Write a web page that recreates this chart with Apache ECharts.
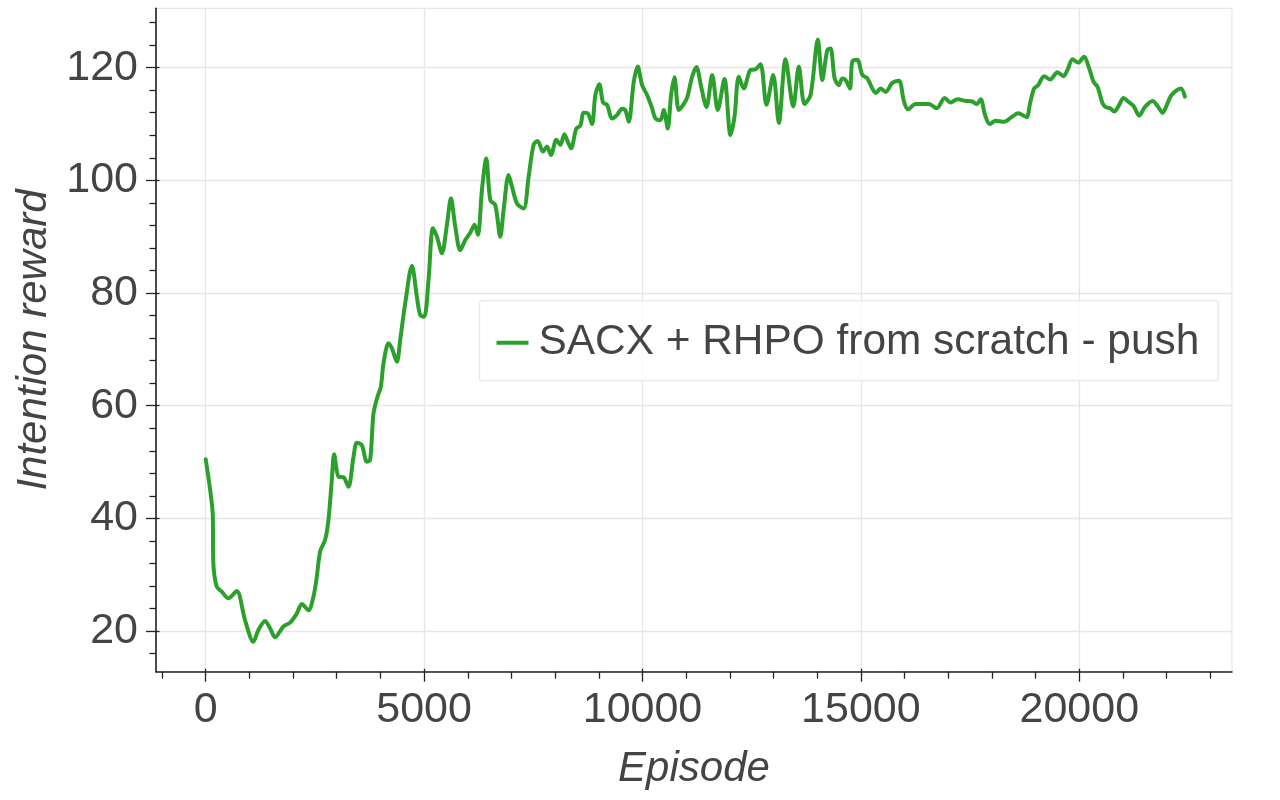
<!DOCTYPE html>
<html>
<head>
<meta charset="utf-8">
<script src="https://cdn.jsdelivr.net/npm/echarts@6/dist/echarts.min.js"></script>
<style>
html,body{margin:0;padding:0;background:#fff;}
#chart{width:1280px;height:800px;}
</style>
</head>
<body>
<div id="chart"></div>
<script>
const seriesName = 'SACX + RHPO from scratch - push';
const xTitle = 'Episode';
const yTitle = 'Intention reward';
const xTickValues = [0, 5000, 10000, 15000, 20000];
const xMinorTickValues = [-1000,1000,2000,3000,4000,6000,7000,8000,9000,11000,12000,13000,14000,16000,17000,18000,19000,21000,22000,23000];
const yTickValues = [20, 40, 60, 80, 100, 120];
const yMinorTickValues = [16,24,28,32,36,44,48,52,56,64,68,72,76,84,88,92,96,104,108,112,116,124,128];
const episodes = [0,103,160,175,251,366,519,710,900,1091,1206,1359,1473,1588,1778,1932,2085,2200,2352,2466,2543,2619,2734,2810,2887,2940,3039,3154,3268,3383,3460,3574,3689,3765,3841,3933,4010,4070,4185,4262,4377,4453,4568,4721,4835,4911,5002,5101,5202,5293,5408,5522,5614,5713,5827,5942,6056,6155,6232,6324,6423,6515,6629,6744,6820,6934,7012,7127,7278,7393,7507,7599,7722,7814,7905,8027,8119,8211,8272,8364,8485,8577,8653,8745,8845,8921,9012,9097,9189,9303,9418,9532,9609,9685,9800,9890,9991,10105,10220,10296,10411,10486,10578,10655,10731,10830,10930,11022,11137,11235,11343,11465,11595,11723,11876,12014,12106,12204,12319,12472,12587,12702,12839,12993,13121,13274,13451,13579,13710,13848,14015,14115,14230,14306,14398,14496,14574,14650,14749,14803,14917,15032,15147,15261,15337,15451,15566,15719,15871,15986,16077,16253,16558,16735,16918,17055,17209,17399,17552,17651,17743,17842,17949,18086,18277,18446,18598,18698,18797,18873,18965,19057,19194,19331,19500,19638,19730,19844,19973,20110,20225,20325,20417,20532,20607,20706,20798,20899,21013,21119,21242,21371,21501,21677,21792,21907,22005,22097,22211,22326,22418];
const rewards = [50.5,45.0,40.9,32.0,27.9,27.0,25.8,27.1,21.95,18.1,20.2,21.8,20.5,18.9,20.8,21.5,23.1,24.8,23.7,26.1,29.6,34.1,36.2,39.7,46.8,51.4,47.4,47.3,45.6,50.9,53.4,53.0,50.05,50.4,58.6,61.6,63.4,67.5,71.1,70.2,67.8,71.7,78.2,84.85,79.3,76.1,75.8,82.3,91.5,90.0,87.05,92.1,96.8,91.8,87.6,89.4,90.7,92.1,90.3,98.3,103.9,96.5,95.6,90.0,94.75,100.95,98.9,95.9,95.0,100.65,106.3,107.0,105.1,106.0,104.5,107.2,106.3,108.2,107.2,105.7,109.2,109.7,112.0,111.9,110.0,115.15,117.05,113.8,113.4,111.0,111.6,112.7,112.4,110.4,117.5,120.2,116.9,115.15,112.8,111.0,110.7,112.5,109.2,115.15,118.3,112.5,113.4,114.7,118.4,120.1,116.6,113.0,118.7,112.5,118.0,108.05,111.3,118.4,116.3,119.6,119.7,120.6,113.4,118.7,110.2,121.5,113.1,120.2,113.55,115.15,125.0,117.8,123.1,123.4,118.1,116.9,118.1,117.8,116.3,121.1,121.4,118.7,118.1,116.3,115.5,116.3,115.7,117.3,117.7,114.0,112.6,113.55,113.55,112.8,114.6,113.8,114.4,114.1,114.0,113.55,114.4,111.6,110.0,110.6,110.4,111.2,111.9,111.6,111.2,113.7,116.3,116.9,118.5,117.9,119.2,118.5,119.6,121.5,120.9,121.95,119.9,117.5,116.6,113.7,113.0,112.8,112.2,113.2,114.6,114.0,113.2,111.5,113.0,114.1,113.2,112.0,113.4,115.0,115.9,116.3,114.85];

const FONT = '"Liberation Sans", Arial, Helvetica, sans-serif';
const TXT = '#444444';
const AX = '#222222';
const GRIDC = '#e6e6e6';
const X_MIN = -1138, X_MAX = 23496, Y_MIN = 12.78, Y_MAX = 130.54;

const chart = echarts.init(document.getElementById('chart'), null, {renderer: 'canvas'});
const baseX = {type: 'value', min: X_MIN, max: X_MAX, gridIndex: 0, position: 'bottom'};
const baseY = {type: 'value', min: Y_MIN, max: Y_MAX, gridIndex: 0, position: 'left'};
const hidden = {axisLine: {show: false, onZero: false}, splitLine: {show: false}, axisLabel: {show: false}, minorTick: {show: false}};
const plain = v => String(v);

chart.setOption({
  animation: false,
  backgroundColor: '#ffffff',
  grid: {left: 156, right: 48, top: 8.3, bottom: 128.3, show: true, borderColor: GRIDC, borderWidth: 1.3, backgroundColor: 'transparent'},
  legend: {
    show: true, left: 479.5, top: 300.7, orient: 'horizontal',
    padding: [21, 19, 17, 17],
    backgroundColor: 'rgba(255,255,255,0.8)', borderColor: '#e8e8e8', borderWidth: 1.3, borderRadius: 3,
    icon: 'rect', itemWidth: 32, itemHeight: 4,
    textStyle: {fontFamily: FONT, fontSize: 42.4, color: TXT, lineHeight: 42, padding: [0, 0, 0, 5]},
    data: [seriesName]
  },
  xAxis: [
    Object.assign({}, baseX, {
      name: xTitle, nameLocation: 'middle', nameGap: 77,
      nameTextStyle: {fontFamily: FONT, fontSize: 42, fontStyle: 'italic', color: TXT},
      axisLine: {show: true, onZero: false, lineStyle: {color: AX, width: 1.6}},
      axisTick: {show: true, inside: false, length: 10, lineStyle: {color: AX, width: 1.3}, customValues: xTickValues},
      axisLabel: {show: true, margin: 17, fontFamily: FONT, fontSize: 43, color: TXT, lineHeight: 42, customValues: xTickValues, formatter: plain},
      splitLine: {show: true, lineStyle: {color: GRIDC, width: 1.3}},
      minorTick: {show: false}
    }),
    Object.assign({}, baseX, hidden, {
      axisTick: {show: true, inside: true, length: 3, lineStyle: {color: AX, width: 1.3}, customValues: xTickValues}
    }),
    Object.assign({}, baseX, hidden, {
      axisTick: {show: true, inside: false, length: 7, lineStyle: {color: AX, width: 1.3}, customValues: xMinorTickValues}
    })
  ],
  yAxis: [
    Object.assign({}, baseY, {
      name: yTitle, nameLocation: 'middle', nameGap: 92, nameRotate: 90,
      nameTextStyle: {fontFamily: FONT, fontSize: 42, fontStyle: 'italic', color: TXT},
      axisLine: {show: true, onZero: false, lineStyle: {color: AX, width: 1.6}},
      axisTick: {show: true, inside: false, length: 10, lineStyle: {color: AX, width: 1.3}, customValues: yTickValues},
      axisLabel: {show: true, margin: 18, fontFamily: FONT, fontSize: 43, color: TXT, customValues: yTickValues, formatter: plain},
      splitLine: {show: true, lineStyle: {color: GRIDC, width: 1.3}},
      minorTick: {show: false}
    }),
    Object.assign({}, baseY, hidden, {
      axisTick: {show: true, inside: true, length: 3.5, lineStyle: {color: AX, width: 1.3}, customValues: yTickValues}
    }),
    Object.assign({}, baseY, hidden, {
      axisTick: {show: true, inside: false, length: 6.5, lineStyle: {color: AX, width: 1.3}, customValues: yMinorTickValues}
    })
  ],
  series: [{
    name: seriesName, type: 'line', xAxisIndex: 0, yAxisIndex: 0,
    data: episodes.map((e, i) => [e, rewards[i]]),
    showSymbol: false, symbol: 'none', smooth: 0.3,
    lineStyle: {color: '#2ca02c', width: 4, cap: 'round', join: 'round'},
    itemStyle: {color: '#2ca02c'},
    z: 5
  }]
});
</script>
</body>
</html>
